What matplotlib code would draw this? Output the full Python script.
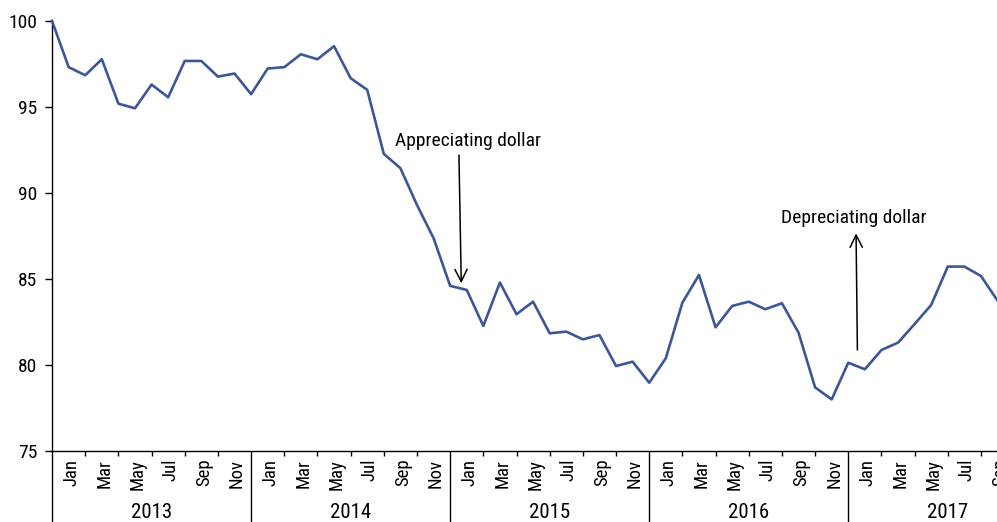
import matplotlib
matplotlib.use("Agg")
import matplotlib.pyplot as plt
import matplotlib.transforms as mtransforms

plt.rcParams['font.family'] = ['Roboto Condensed', 'DejaVu Sans']

# monthly index, Dec 2012 = 100 through Sep 2017
values = [100.0, 97.31, 96.84, 97.77, 95.19, 94.92, 96.30, 95.56, 97.67, 97.67,
          96.76, 96.94, 95.74, 97.23, 97.31, 98.06, 97.77, 98.53, 96.67, 95.99,
          92.27, 91.44, 89.30, 87.37, 84.60, 84.36, 82.27, 84.79, 82.95, 83.68,
          81.84, 81.94, 81.49, 81.74, 79.94, 80.19, 78.97, 80.39, 83.62, 85.23,
          82.19, 83.43, 83.68, 83.24, 83.59, 81.88, 78.70, 78.00, 80.13, 79.75,
          80.87, 81.30, 82.38, 83.49, 85.72, 85.72, 85.17, 83.74]
month_names = ["Jan", "Mar", "May", "Jul", "Sep", "Nov"]
years = ["2013", "2014", "2015", "2016", "2017"]
y_ticks = [75, 80, 85, 90, 95, 100]

fig = plt.figure(figsize=(9.97, 5.22), dpi=100)
ax = fig.add_axes([0.0522, 0.136, 0.965, 0.824])

x = list(range(len(values)))
ax.plot(x, values, color="#3c5797", lw=1.9, clip_on=False, zorder=3)

ax.set_xlim(0, 58)
ax.set_ylim(75, 100)
for s in ["top", "right"]:
    ax.spines[s].set_visible(False)
ax.spines["left"].set_linewidth(1.0)
ax.spines["bottom"].set_linewidth(1.0)

ax.set_yticks(y_ticks)
ax.set_yticklabels([str(v) for v in y_ticks], fontsize=14)
ax.tick_params(axis="y", length=5, width=1, pad=5.5)

# x axis: year separators (major) and two-month ticks (minor)
ax.set_xticks([12 * k for k in range(len(years))])
ax.set_xticklabels([])
ax.set_xticks([j for j in range(0, 58, 2) if j % 12 != 0], minor=True)
ax.tick_params(axis="x", which="major", length=52, width=1)
ax.tick_params(axis="x", which="minor", length=3.5, width=1)

trans = mtransforms.blended_transform_factory(ax.transData, ax.transAxes)
for yi, yr in enumerate(years):
    for mi, mn in enumerate(month_names):
        j = 12 * yi + 2 * mi + 1
        if j > 57:
            continue
        ax.text(j + 0.15, -0.018, mn, transform=trans, rotation=90, ha="center", va="top",
                fontsize=13.5, clip_on=False)
    ax.text(12 * yi + 6, -0.143, yr, transform=trans, ha="center", va="center",
            fontsize=15)

ax.annotate("", xy=(24.67, 84.75), xytext=(24.53, 92.2),
            arrowprops=dict(arrowstyle="->", color="black", lw=1.1,
                            mutation_scale=22, shrinkA=0, shrinkB=0))
ax.text(25.07, 93.0, "Appreciating dollar", ha="center", va="center", fontsize=14)

ax.annotate("", xy=(48.47, 87.65), xytext=(48.55, 80.87),
            arrowprops=dict(arrowstyle="->", color="black", lw=1.1,
                            mutation_scale=22, shrinkA=0, shrinkB=0))
ax.text(48.33, 88.55, "Depreciating dollar", ha="center", va="center", fontsize=14)

fig.savefig("out.png", dpi=100)
